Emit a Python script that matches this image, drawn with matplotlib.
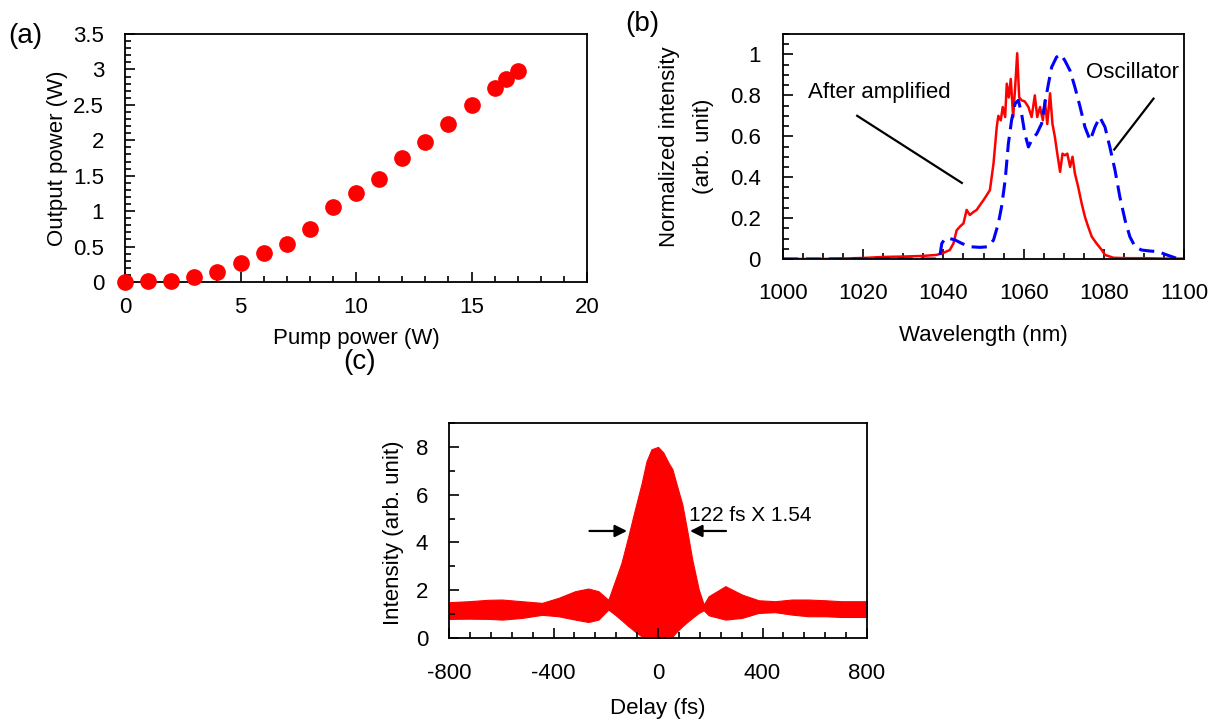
import matplotlib.pyplot as plt
import numpy as np
from matplotlib.ticker import MultipleLocator, FormatStrFormatter

plt.rcParams['font.family'] = ['Liberation Sans', 'DejaVu Sans']
plt.rcParams['font.size'] = 16
plt.rcParams['axes.unicode_minus'] = False

# (a) output power vs pump power
pump = [0, 1, 2, 3, 4, 5, 6, 7, 8, 9, 10, 11, 12, 13, 14, 15, 16, 16.5, 17]
output = [0, 0.01, 0.02, 0.07, 0.14, 0.27, 0.415, 0.54, 0.75, 1.06, 1.25, 1.46,
          1.755, 1.98, 2.23, 2.495, 2.736, 2.87, 2.98]

# (b) spectra
wl_amp = [1000, 1010, 1020, 1025, 1030, 1035, 1038.3, 1040, 1041.6, 1042.5, 1043.3,
          1044.1, 1045, 1045.8, 1046.6, 1047.5, 1048.3, 1049.1, 1050, 1050.8, 1051.6,
          1052.5, 1053.3, 1053.7, 1054.3, 1054.8, 1055.4, 1055.8, 1056.3, 1056.8,
          1057.4, 1058, 1058.4, 1058.9, 1059.5, 1060.3, 1061.2, 1062, 1062.8, 1063.4,
          1064.1, 1064.8, 1065.3, 1065.9, 1066.6, 1067.2, 1067.8, 1068.4, 1069.1,
          1069.7, 1070.3, 1070.9, 1071.6, 1072.2, 1072.8, 1073.6, 1074.5, 1075.3,
          1076.1, 1077, 1078.2, 1079.5, 1080.3, 1082.4, 1086, 1090, 1095, 1100]
int_amp = [0, 0, 0.005, 0.01, 0.012, 0.015, 0.02, 0.03, 0.044, 0.076, 0.14,
           0.158, 0.174, 0.24, 0.215, 0.23, 0.24, 0.263, 0.288, 0.312, 0.337,
           0.467, 0.645, 0.70, 0.678, 0.743, 0.694, 0.857, 0.79, 0.88,
           0.694, 0.873, 1.006, 0.79, 0.776, 0.77, 0.743, 0.694, 0.80, 0.694,
           0.743, 0.678, 0.776, 0.66, 0.81, 0.66, 0.597, 0.515, 0.426,
           0.515, 0.507, 0.515, 0.45, 0.50, 0.418, 0.353, 0.27, 0.206,
           0.158, 0.109, 0.076, 0.044, 0.02, 0.006, 0.004, 0.004, 0.002, 0.002]

wl_osc = [1000, 1020, 1039, 1039.6, 1040.4, 1041.6, 1042.9, 1044.6, 1046.6, 1049.1,
          1051.2, 1052.5, 1053.7, 1054.5, 1055.4, 1056.2, 1057, 1057.9, 1058.7,
          1059.5, 1060.3, 1061.2, 1062, 1063.3, 1064.5, 1065.3, 1066.2, 1067,
          1068.2, 1069.3, 1070.3, 1071.6, 1072.8, 1074.1, 1075.3, 1076.6, 1077.8,
          1079, 1080.3, 1081.5, 1082.8, 1084, 1085.3, 1086.5, 1087.8, 1089.4,
          1091.5, 1093.6, 1095.7, 1098.2, 1100]
int_osc = [0, 0, 0, 0.076, 0.10, 0.10, 0.093, 0.076, 0.06, 0.057,
           0.06, 0.093, 0.174, 0.255, 0.385, 0.564, 0.678, 0.76, 0.776,
           0.71, 0.613, 0.548, 0.58, 0.613, 0.662, 0.76, 0.857, 0.938,
           0.987, 1.0, 0.97, 0.92, 0.84, 0.743, 0.645, 0.58, 0.645,
           0.694, 0.645, 0.548, 0.434, 0.304, 0.19, 0.109, 0.06, 0.044,
           0.039, 0.036, 0.02, 0.003, 0]

# (c) interferometric autocorrelation, upper / lower fringe envelopes
delay = [-800, -724, -648, -597, -521, -444, -381, -317, -267, -228, -190, -165,
         -140, -114, -89, -63, -44, -25, 0, 20, 42, 55, 67, 80, 93, 112, 131, 156,
         175, 194, 258, 321, 385, 448, 512, 575, 639, 702, 800]
env_up = [1.50, 1.54, 1.60, 1.61, 1.54, 1.47, 1.68, 1.96, 2.07, 1.96, 1.60, 2.37,
          3.14, 4.24, 5.35, 6.46, 7.4, 7.9, 8.0, 7.77, 7.3, 7.07, 6.6, 6.09, 5.6,
          4.48, 3.29, 2.03, 1.4, 1.75, 2.17, 1.82, 1.58, 1.54, 1.61, 1.61, 1.58,
          1.54, 1.54]
env_lo = [0.80, 0.81, 0.80, 0.77, 0.84, 0.97, 0.91, 0.77, 0.67, 0.77, 1.19, 0.98,
          0.75, 0.50, 0.28, 0.07, 0, 0, 0, 0, 0, 0.05, 0.21, 0.35, 0.49, 0.67,
          0.84, 1.05, 1.16, 0.95, 0.77, 0.84, 1.05, 1.08, 0.98, 0.91, 0.91, 0.88,
          0.88]


def style(ax, xpad, ypad):
    for s in ax.spines.values():
        s.set_linewidth(1.3)
    ax.tick_params(which='both', direction='in', top=False, right=False, width=1.2)
    ax.tick_params(which='major', length=7)
    ax.tick_params(which='minor', length=4.5)
    ax.tick_params(axis='x', pad=xpad)
    ax.tick_params(axis='y', pad=ypad)


def place_labels(ax, xl, yl):
    ax.xaxis.set_label_coords(*xl)
    ax.xaxis.label.set_verticalalignment('center')
    ax.yaxis.set_label_coords(*yl)
    ax.yaxis.label.set_verticalalignment('center')


fig = plt.figure(figsize=(12.19, 7.2), dpi=100)

# panel (a)
ax1 = fig.add_axes([125/1219, 1-282/720, 462/1219, 248/720])
ax1.plot(pump, output, 'o', color='#ff0000', markersize=11, clip_on=False, zorder=3)
ax1.set_xlim(0, 20)
ax1.set_ylim(0, 3.5)
ax1.xaxis.set_major_locator(MultipleLocator(5))
ax1.xaxis.set_minor_locator(MultipleLocator(1))
ax1.yaxis.set_major_locator(MultipleLocator(0.5))
ax1.yaxis.set_minor_locator(MultipleLocator(0.1))
ax1.yaxis.set_major_formatter(FormatStrFormatter('%g'))
style(ax1, 11, 15)
ax1.set_xlabel('Pump power (W)')
ax1.set_ylabel('Output power (W)')
place_labels(ax1, (0.5, -0.226), (-0.147, 0.5))
fig.text(8/1219, 1-36/720, '(a)', fontsize=20, va='center')

# panel (b)
ax2 = fig.add_axes([783/1219, 1-259/720, 401/1219, 225/720])
ax2.plot(wl_amp, int_amp, color='#ff0000', lw=1.8)
ax2.plot(wl_osc, int_osc, color='#0000ff', lw=2.2, dashes=(5, 2.5))
ax2.set_xlim(1000, 1100)
ax2.set_ylim(0, 1.1)
ax2.xaxis.set_major_locator(MultipleLocator(20))
ax2.xaxis.set_minor_locator(MultipleLocator(5))
ax2.yaxis.set_major_locator(MultipleLocator(0.2))
ax2.yaxis.set_minor_locator(MultipleLocator(0.05))
ax2.yaxis.set_major_formatter(FormatStrFormatter('%g'))
style(ax2, 17, 16)
ax2.set_xlabel('Wavelength (nm)')
ax2.set_ylabel('Normalized intensity\n(arb. unit)', linespacing=1.8)
place_labels(ax2, (0.5, -0.338), (-0.24, 0.5))
ax2.text(1006.3, 0.816, 'After amplified', va='center', ha='left')
ax2.plot([1018.5, 1044.6], [0.70, 0.372], color='k', lw=1.6)
ax2.text(1075.6, 0.914, 'Oscillator', va='center', ha='left')
ax2.plot([1092.4, 1082.6], [0.784, 0.535], color='k', lw=1.6)
fig.text(625/1219, 1-24/720, '(b)', fontsize=20, va='center')

# panel (c)
ax3 = fig.add_axes([449/1219, 1-638/720, 418/1219, 215/720])
ax3.fill_between(delay, env_lo, env_up, color='#ff0000', lw=0.8, edgecolor='#ff0000')
ax3.set_xlim(-800, 800)
ax3.set_ylim(0, 9)
ax3.xaxis.set_major_locator(MultipleLocator(400))
ax3.xaxis.set_minor_locator(MultipleLocator(80))
ax3.yaxis.set_major_locator(MultipleLocator(2))
ax3.yaxis.set_minor_locator(MultipleLocator(1))
style(ax3, 18, 15)
ax3.set_xlabel('Delay (fs)')
ax3.set_ylabel('Intensity (arb. unit)')
place_labels(ax3, (0.5, -0.326), (-0.132, 0.49))
ax3.annotate('', xy=(-108, 4.48), xytext=(-273, 4.48),
             arrowprops=dict(arrowstyle='-|>', color='k', lw=1.6, mutation_scale=18))
ax3.annotate('', xy=(112, 4.48), xytext=(271, 4.48),
             arrowprops=dict(arrowstyle='-|>', color='k', lw=1.6, mutation_scale=18))
ax3.text(120, 5.11, '122 fs X 1.54', va='center', ha='left', fontsize=15)
fig.text(343/1219, 1-362/720, '(c)', fontsize=20, va='center')

plt.savefig('out.png', dpi=100)
